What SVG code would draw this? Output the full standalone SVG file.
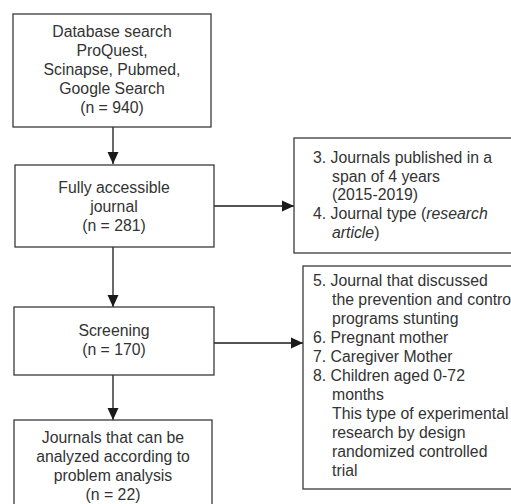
<svg xmlns="http://www.w3.org/2000/svg" width="511" height="504" viewBox="0 0 511 504">
<style>
.box{fill:#fff;stroke:#3a3a3a;stroke-width:1.3}
.t{font-family:"Liberation Sans",Arial,sans-serif;font-size:15.8px;fill:#333}
.c{text-anchor:middle}
.ln{stroke:#1a1a1a;stroke-width:1.3;fill:none}
</style>
<defs>
<marker id="ah" markerUnits="userSpaceOnUse" markerWidth="12" markerHeight="12" viewBox="0 0 12 12" refX="12" refY="6" orient="auto">
<path d="M0,0.5 L12,6 L0,11.5 Z" fill="#1a1a1a"/>
</marker>
</defs>
<rect width="511" height="504" fill="#fff"/>
<g id="connectors">
<line class="ln" x1="113" y1="127" x2="113" y2="164" marker-end="url(#ah)"/>
<line class="ln" x1="214" y1="206" x2="294" y2="206" marker-end="url(#ah)"/>
<line class="ln" x1="113" y1="247" x2="113" y2="307" marker-end="url(#ah)"/>
<line class="ln" x1="214" y1="343" x2="303" y2="343" marker-end="url(#ah)"/>
<line class="ln" x1="113" y1="375" x2="113" y2="420" marker-end="url(#ah)"/>
</g>
<g id="n1">
<rect class="box" x="13" y="14" width="198" height="113"/>
<text class="t c" x="112" y="37">Database search</text>
<text class="t c" x="112" y="56">ProQuest,</text>
<text class="t c" x="112" y="75">Scinapse, Pubmed,</text>
<text class="t c" x="112" y="94">Google Search</text>
<text class="t c" x="112" y="113">(n = 940)</text>
</g>
<g id="n2">
<rect class="box" x="15" y="165" width="199" height="82"/>
<text class="t c" x="114" y="193">Fully accessible</text>
<text class="t c" x="114" y="212">journal</text>
<text class="t c" x="114" y="231">(n = 281)</text>
</g>
<g id="n3">
<rect class="box" x="294" y="138" width="225" height="115"/>
<text class="t" x="313" y="163">3. Journals published in a</text>
<text class="t" x="332" y="182">span of 4 years</text>
<text class="t" x="332" y="200">(2015-2019)</text>
<text class="t" x="313" y="219">4. Journal type (<tspan font-style="italic">research</tspan></text>
<text class="t" x="332" y="238"><tspan font-style="italic">article</tspan>)</text>
</g>
<g id="n4">
<rect class="box" x="14" y="307" width="200" height="68"/>
<text class="t c" x="114" y="336">Screening</text>
<text class="t c" x="114" y="355">(n = 170)</text>
</g>
<g id="n5">
<rect class="box" x="303" y="266" width="215" height="223"/>
<text class="t" x="313" y="286">5. Journal that discussed</text>
<text class="t" x="332" y="305">the prevention and contro</text>
<text class="t" x="332" y="324">programs stunting</text>
<text class="t" x="313" y="343">6. Pregnant mother</text>
<text class="t" x="313" y="362">7. Caregiver Mother</text>
<text class="t" x="313" y="381">8. Children aged 0-72</text>
<text class="t" x="332" y="400">months</text>
<text class="t" x="332" y="419">This type of experimental</text>
<text class="t" x="332" y="438">research by design</text>
<text class="t" x="332" y="457">randomized controlled</text>
<text class="t" x="332" y="476">trial</text>
</g>
<g id="n6">
<rect class="box" x="14" y="420" width="198" height="100"/>
<text class="t c" x="113" y="443">Journals that can be</text>
<text class="t c" x="113" y="462">analyzed according to</text>
<text class="t c" x="113" y="481">problem analysis</text>
<text class="t c" x="113" y="500">(n = 22)</text>
</g>
</svg>
